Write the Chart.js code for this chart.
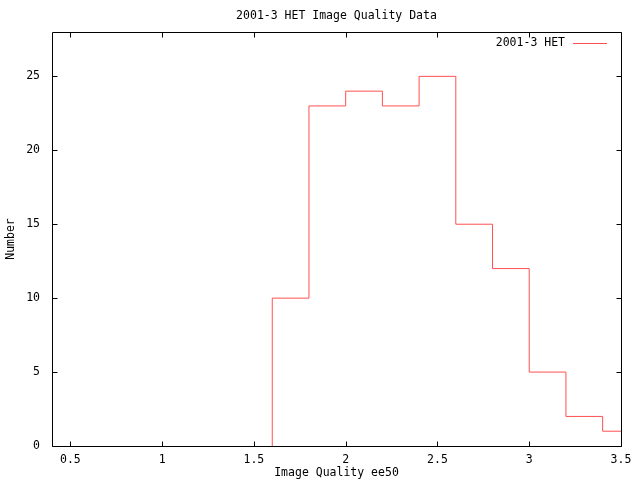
<!DOCTYPE html>
<html>
<head>
<meta charset="utf-8">
<script src="https://cdn.jsdelivr.net/npm/chart.js@4"></script>
<style>
  html, body { margin: 0; padding: 0; background: #fff; }
  #wrap { width: 640px; height: 480px; }
</style>
</head>
<body>
<div id="wrap"><canvas id="c" width="640" height="480"></canvas></div>
<script>
const chartTitle = '2001-3 HET Image Quality Data';
const seriesName = '2001-3 HET';
const xTitle = 'Image Quality ee50';
const yTitle = 'Number';
const binEdges = [1.6, 1.8, 2.0, 2.2, 2.4, 2.6, 2.8, 3.0, 3.2, 3.4, 3.6];
const counts = [10, 23, 24, 23, 25, 15, 12, 5, 2, 1];
const xTickValues = [0.5, 1, 1.5, 2, 2.5, 3, 3.5];
const yTickValues = [0, 5, 10, 15, 20, 25];

const FONT = '"DejaVu Sans Mono", "Liberation Mono", monospace';
const RED = 'rgb(255,80,80)';

const points = [{ x: binEdges[0], y: 0 }];
counts.forEach((c, i) => points.push({ x: binEdges[i], y: c }));
points.push({ x: binEdges[binEdges.length - 1], y: counts[counts.length - 1] });

const framePlugin = {
  id: 'frame',
  afterDraw(chart) {
    const { ctx, chartArea: a, scales } = chart;
    const L = Math.round(a.left) + 0.5, R = Math.round(a.right) + 0.5;
    const T = Math.round(a.top) + 0.5, B = Math.round(a.bottom) + 0.5;
    ctx.save();
    ctx.strokeStyle = '#000';
    ctx.lineWidth = 1;
    ctx.beginPath();
    ctx.rect(L, T, R - L, B - T);
    const tl = 5;
    scales.x.ticks.forEach(t => {
      const px = Math.round(scales.x.getPixelForValue(t.value)) + 0.5;
      ctx.moveTo(px, B); ctx.lineTo(px, B - tl);
      ctx.moveTo(px, T); ctx.lineTo(px, T + tl);
    });
    scales.y.ticks.forEach(t => {
      const py = Math.round(scales.y.getPixelForValue(t.value)) + 0.5;
      ctx.moveTo(L, py); ctx.lineTo(L + tl, py);
      ctx.moveTo(R, py); ctx.lineTo(R - tl, py);
    });
    ctx.stroke();

    ctx.fillStyle = '#000';
    ctx.font = '11.5px ' + FONT;
    ctx.textAlign = 'center';
    ctx.textBaseline = 'middle';
    ctx.fillText(chartTitle, (a.left + a.right) / 2, 16);

    ctx.textAlign = 'right';
    ctx.fillText(seriesName, a.right - 56, a.top + 11);
    ctx.strokeStyle = RED;
    ctx.beginPath();
    ctx.moveTo(a.right - 48, a.top + 11.5);
    ctx.lineTo(a.right - 14, a.top + 11.5);
    ctx.stroke();
    ctx.restore();
  }
};

new Chart(document.getElementById('c'), {
  type: 'line',
  data: {
    datasets: [{
      label: seriesName,
      data: points,
      stepped: 'before',
      borderColor: RED,
      borderWidth: 1,
      pointRadius: 0,
      fill: false
    }]
  },
  options: {
    responsive: false,
    animation: false,
    devicePixelRatio: 1,
    layout: { padding: { top: 32, right: 19, left: 0, bottom: 0 } },
    plugins: { legend: { display: false }, title: { display: false }, tooltip: { enabled: false } },
    scales: {
      x: {
        type: 'linear',
        min: 0.4,
        max: 3.5,
        grid: { display: false, drawTicks: false },
        border: { display: false },
        afterBuildTicks: s => { s.ticks = xTickValues.map(v => ({ value: v })); },
        afterFit: s => { s.height = 34; },
        ticks: {
          color: '#000',
          font: { family: FONT, size: 11.5 },
          padding: 7,
          maxRotation: 0,
          callback: v => String(v)
        },
        title: {
          display: true,
          text: xTitle,
          color: '#000',
          font: { family: FONT, size: 11.5 },
          padding: { top: 0, bottom: 0 }
        }
      },
      y: {
        type: 'linear',
        min: 0,
        max: 28,
        grid: { display: false, drawTicks: false },
        border: { display: false },
        afterBuildTicks: s => { s.ticks = yTickValues.map(v => ({ value: v })); },
        afterFit: s => { s.width = 52; },
        ticks: {
          color: '#000',
          font: { family: FONT, size: 11.5 },
          padding: 12,
          callback: v => String(v)
        },
        title: {
          display: true,
          text: yTitle,
          color: '#000',
          font: { family: FONT, size: 11.5 },
          padding: { top: 4, bottom: 0 }
        }
      }
    }
  },
  plugins: [framePlugin]
});
</script>
</body>
</html>
